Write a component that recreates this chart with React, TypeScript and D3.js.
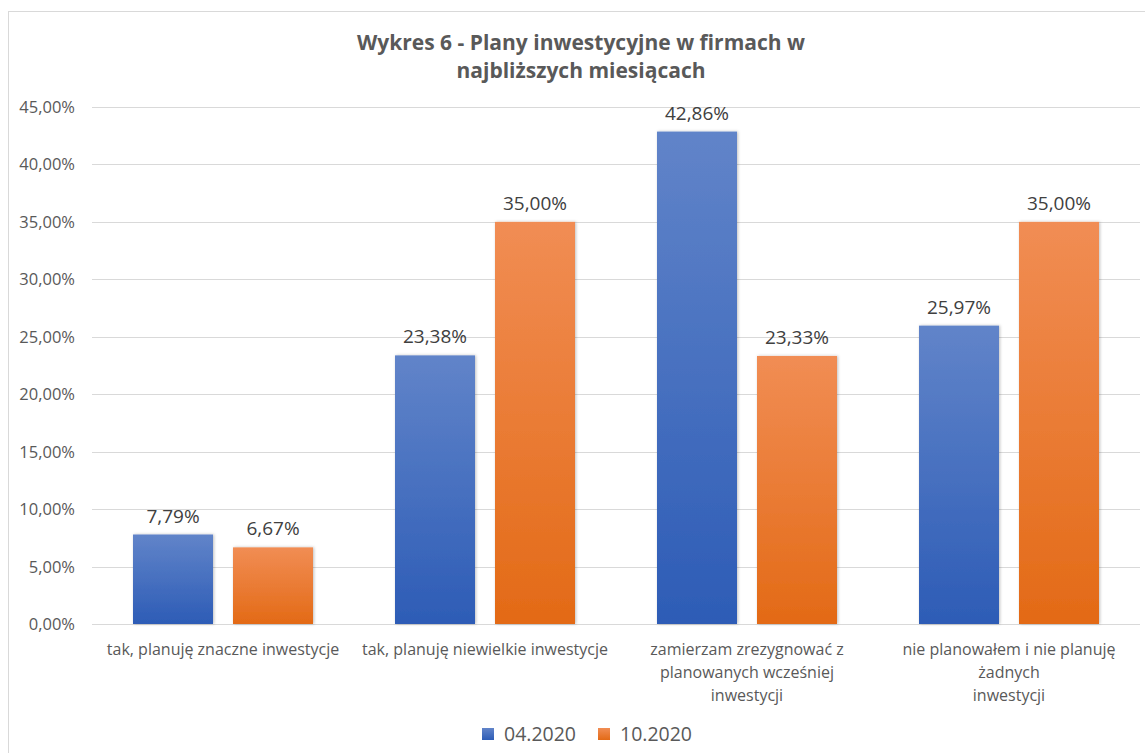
import { useEffect, useRef } from 'react'
import * as d3 from 'd3'

// dane z wykresu
const categories = [
  ['tak, planuję znaczne inwestycje'],
  ['tak, planuję niewielkie inwestycje'],
  ['zamierzam zrezygnować z', 'planowanych wcześniej', 'inwestycji'],
  ['nie planowałem i nie planuję', 'żadnych', 'inwestycji'],
]
const seriesNames = ['04.2020', '10.2020']
const values0420 = [7.79, 23.38, 42.86, 25.97]
const values1020 = [6.67, 35.0, 23.33, 35.0]
const yTicks = [0, 5, 10, 15, 20, 25, 30, 35, 40, 45]
const titleLines = ['Wykres 6 - Plany inwestycyjne w firmach w', 'najbliższych miesiącach']

const colors = [
  { top: '#6184c9', bottom: '#2d5cb6' },
  { top: '#f18d54', bottom: '#e36a16' },
]

const fmt = (v: number) => v.toFixed(2).replace('.', ',') + '%'

const App = () => {
  const chartRef = useRef<SVGSVGElement>(null)

  useEffect(() => {
    if (!chartRef.current) return
    const svg = d3.select(chartRef.current)
    svg.selectAll('*').remove()

    const font = '"Open Sans", "Noto Sans", sans-serif'
    const left = 92
    const right = 1140
    const top = 107
    const bottom = 624

    // gradienty + cień
    const defs = svg.append('defs')
    colors.forEach((c, i) => {
      const g = defs.append('linearGradient')
        .attr('id', `grad${i}`)
        .attr('x1', 0).attr('y1', 0).attr('x2', 0).attr('y2', 1)
      g.append('stop').attr('offset', '0%').attr('stop-color', c.top)
      g.append('stop').attr('offset', '100%').attr('stop-color', c.bottom)
    })
    const f = defs.append('filter').attr('id', 'shadow')
      .attr('x', '-10%').attr('y', '-10%').attr('width', '120%').attr('height', '120%')
    f.append('feDropShadow')
      .attr('dx', 1).attr('dy', 0).attr('stdDeviation', 1.5)
      .attr('flood-color', '#000').attr('flood-opacity', 0.25)

    // ramka
    svg.append('rect')
      .attr('x', 8.5).attr('y', 11.5)
      .attr('width', 1160).attr('height', 760)
      .attr('fill', 'white')
      .attr('stroke', '#d9d9d9')

    // tytuł
    svg.append('text')
      .attr('x', 581)
      .attr('text-anchor', 'middle')
      .style('font-family', font)
      .style('font-weight', 'bold')
      .style('font-size', '21px')
      .style('fill', '#595959')
      .selectAll('tspan')
      .data(titleLines)
      .enter()
      .append('tspan')
      .attr('x', 581)
      .attr('y', (d, i) => 50 + i * 28)
      .text(d => d)

    // skale
    const y = d3.scaleLinear().domain([0, 45]).range([bottom, top])
    const x0 = d3.scaleBand<number>()
      .domain(d3.range(categories.length))
      .range([left, right])
      .paddingInner(0.313)
      .paddingOuter(0.1565)
    const x1 = d3.scaleBand<number>()
      .domain([0, 1])
      .range([0, x0.bandwidth()])
      .paddingInner(0.2)

    // siatka
    svg.append('g')
      .selectAll('line')
      .data(yTicks)
      .enter()
      .append('line')
      .attr('x1', left).attr('x2', right)
      .attr('y1', d => Math.round(y(d)) + 0.5)
      .attr('y2', d => Math.round(y(d)) + 0.5)
      .attr('stroke', '#d9d9d9')
      .attr('stroke-width', 1)

    // oś Y
    svg.append('g')
      .selectAll('text')
      .data(yTicks)
      .enter()
      .append('text')
      .attr('x', 75)
      .attr('y', d => y(d) + 6)
      .attr('text-anchor', 'end')
      .style('font-family', font)
      .style('font-size', '16.5px')
      .style('fill', '#595959')
      .text(d => fmt(d))

    // słupki
    const series = [values0420, values1020]
    series.forEach((vals, si) => {
      const g = svg.append('g')
      g.selectAll('rect')
        .data(vals)
        .enter()
        .append('rect')
        .attr('x', (d, i) => x0(i)! + x1(si)!)
        .attr('y', d => y(d))
        .attr('width', x1.bandwidth())
        .attr('height', d => bottom - y(d))
        .attr('fill', `url(#grad${si})`)
        .attr('filter', 'url(#shadow)')

      g.selectAll('text')
        .data(vals)
        .enter()
        .append('text')
        .attr('x', (d, i) => x0(i)! + x1(si)! + x1.bandwidth() / 2)
        .attr('y', d => y(d) - 12)
        .attr('text-anchor', 'middle')
        .style('font-family', font)
        .style('font-size', '19px')
        .style('fill', '#404040')
        .text(d => fmt(d))
    })

    // etykiety kategorii
    categories.forEach((lines, i) => {
      svg.append('text')
        .attr('text-anchor', 'middle')
        .style('font-family', font)
        .style('font-size', '16px')
        .style('fill', '#595959')
        .selectAll('tspan')
        .data(lines)
        .enter()
        .append('tspan')
        .attr('x', x0(i)! + x0.bandwidth() / 2)
        .attr('y', (d, j) => 655 + j * 23)
        .text(d => d)
    })

    // legenda
    const legendX = [482, 598]
    seriesNames.forEach((name, i) => {
      svg.append('rect')
        .attr('x', legendX[i]).attr('y', 728)
        .attr('width', 12).attr('height', 12)
        .attr('fill', `url(#grad${i})`)
      svg.append('text')
        .attr('x', legendX[i] + 22)
        .attr('y', 741)
        .style('font-family', font)
        .style('font-size', '19.5px')
        .style('fill', '#595959')
        .text(name)
    })
  }, [])

  return (
    <svg
      ref={chartRef}
      width={1145}
      height={753}
      style={{ position: 'absolute', left: 0, top: 0, background: 'white' }}
    />
  )
}

export default App
